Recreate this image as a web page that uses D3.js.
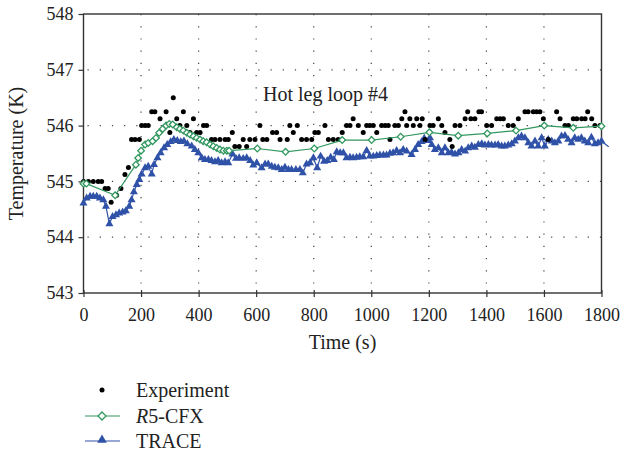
<!DOCTYPE html>
<html>
<head>
<meta charset="utf-8">
<script src="https://cdn.jsdelivr.net/npm/d3@7"></script>
<style>
  body { margin: 0; background: #fff; }
  text { font-family: 'Liberation Serif', 'DejaVu Serif', serif; fill: #222; }
</style>
</head>
<body>
<script>
let w = 625;
let h = 454;

// tick labels
let xTicks = [0, 200, 400, 600, 800, 1000, 1200, 1400, 1600, 1800];
let yTicks = [543, 544, 545, 546, 547, 548];

// Experiment (dots)
let expTime = [0, 17, 34, 51, 63, 75, 86, 96, 115, 130, 144, 156, 167, 179, 194, 202, 214, 225, 237, 248,
  266, 287, 300, 312, 324, 335, 347, 359, 370, 382, 393, 405, 417, 428, 445, 457, 474, 492, 503, 517,
  526, 541, 555, 567, 578, 596, 613, 623, 637, 657, 671, 683, 708, 717, 729, 743, 758, 775, 793, 804,
  816, 839, 851, 868, 885, 899, 914, 926, 937, 955, 972, 984, 995, 1007, 1019, 1036, 1048, 1059, 1065, 1082,
  1094, 1106, 1117, 1123, 1134, 1146, 1158, 1169, 1177, 1187, 1204, 1215, 1233, 1245, 1256, 1273, 1281, 1291, 1308, 1326,
  1335, 1346, 1360, 1374, 1383, 1401, 1418, 1436, 1448, 1459, 1476, 1493, 1511, 1534, 1545, 1563, 1574, 1586, 1598, 1615,
  1644, 1656, 1673, 1685, 1702, 1714, 1731, 1743, 1752, 1766, 1777, 1795];
let expTemp = [545, 545, 545, 545, 545, 544.875, 544.875, 544.625, 544.75, 544.875, 545.125, 545.25, 545.75, 545.75, 545.75, 546, 546, 546, 546.25, 546.25,
  546.125, 546.25, 545.875, 546.5, 546.125, 546, 546.25, 546, 545.875, 546.125, 545.875, 545.875, 546, 546, 545.75, 545.75, 545.75, 545.75, 545.75, 545.875,
  545.625, 545.625, 545.75, 545.625, 545.75, 545.75, 546, 545.75, 545.75, 545.875, 545.875, 545.75, 545.75, 546, 545.875, 546, 545.75, 545.75, 545.75, 545.875,
  545.875, 546, 545.75, 545.75, 545.75, 545.875, 546, 546, 546.125, 546, 545.875, 546, 546, 546, 545.875, 546, 546, 546, 545.75, 546,
  546, 546.125, 546.25, 546, 546.125, 546, 546.125, 546, 546.125, 545.75, 546, 546, 546.125, 546, 545.875, 545.75, 545.625, 546, 546, 546.125,
  546.25, 546.125, 546.125, 546.25, 546.25, 546, 546, 546.125, 546.125, 546.125, 546, 546, 546.125, 546.25, 546.25, 546.25, 546.25, 546.25, 546.125, 545.75,
  546.25, 546.125, 546, 546, 546.125, 546.125, 546.125, 546.125, 546.25, 546.125, 546, 546];

// R5-CFX (hollow diamonds)
let cfxTime = [0, 10, 110, 182, 190, 200, 214, 225, 240, 252, 263, 275, 287, 298, 310, 324, 335, 347, 359, 370,
  382, 393, 405, 416, 428, 440, 451, 463, 474, 486, 498, 506, 604, 702, 802, 899, 1001, 1102, 1202, 1302,
  1403, 1503, 1601, 1702, 1800];
let cfxTemp = [544.96, 544.96, 544.75, 545.3, 545.42, 545.55, 545.66, 545.69, 545.72, 545.78, 545.87, 545.94, 546.0, 546.03, 546.02, 545.97, 545.94, 545.91, 545.87, 545.84,
  545.81, 545.78, 545.75, 545.72, 545.7, 545.66, 545.63, 545.6, 545.57, 545.55, 545.55, 545.55, 545.59, 545.53, 545.59, 545.74, 545.74, 545.8, 545.88, 545.82,
  545.86, 545.91, 546.0, 545.96, 545.99];

// TRACE (filled triangles)
let traceTime = [0, 11, 23, 34, 46, 57, 69, 78, 90, 101, 113, 124, 136, 147, 159, 167, 175, 185, 194, 202,
  214, 225, 237, 245, 257, 268, 280, 291, 303, 314, 326, 338, 349, 361, 376, 387, 399, 411, 422, 434,
  445, 457, 468, 480, 492, 503, 518, 530, 541, 555, 567, 579, 590, 602, 619, 631, 642, 654, 665, 677,
  689, 700, 712, 723, 738, 752, 762, 775, 787, 799, 812, 824, 836, 847, 859, 870, 880, 892, 903, 914,
  926, 937, 949, 960, 972, 984, 995, 1007, 1019, 1030, 1042, 1053, 1065, 1076, 1088, 1100, 1111, 1123, 1140, 1152,
  1163, 1175, 1184, 1198, 1204, 1210, 1221, 1233, 1245, 1256, 1268, 1279, 1291, 1303, 1314, 1326, 1337, 1349, 1360, 1372,
  1384, 1395, 1407, 1418, 1430, 1441, 1453, 1464, 1476, 1488, 1499, 1511, 1522, 1534, 1546, 1557, 1569, 1580, 1592, 1603,
  1615, 1627, 1638, 1650, 1661, 1673, 1684, 1696, 1707, 1719, 1730, 1742, 1754, 1765, 1777, 1788, 1800, 1825];
let traceTemp = [544.61, 544.7, 544.73, 544.73, 544.73, 544.7, 544.67, 544.55, 544.24, 544.37, 544.4, 544.43, 544.45, 544.47, 544.55, 544.67, 544.81, 544.94, 545.03, 545.13,
  545.24, 545.27, 545.13, 545.3, 545.42, 545.51, 545.6, 545.66, 545.71, 545.75, 545.73, 545.71, 545.72, 545.67, 545.63, 545.57, 545.51, 545.42, 545.39, 545.39,
  545.37, 545.35, 545.37, 545.33, 545.35, 545.33, 545.49, 545.41, 545.42, 545.41, 545.42, 545.37, 545.29, 545.33, 545.24, 545.31, 545.31, 545.27, 545.25, 545.24,
  545.21, 545.25, 545.21, 545.21, 545.21, 545.21, 545.15, 545.31, 545.33, 545.42, 545.24, 545.45, 545.36, 545.37, 545.43, 545.39, 545.53, 545.51, 545.51, 545.42,
  545.43, 545.42, 545.43, 545.44, 545.44, 545.55, 545.45, 545.45, 545.46, 545.47, 545.47, 545.47, 545.5, 545.51, 545.55, 545.51, 545.57, 545.54, 545.48, 545.57,
  545.66, 545.71, 545.77, 545.73, 545.78, 545.66, 545.57, 545.6, 545.51, 545.6, 545.51, 545.52, 545.49, 545.51, 545.57, 545.54, 545.6, 545.63, 545.61, 545.66,
  545.67, 545.65, 545.66, 545.65, 545.65, 545.66, 545.63, 545.63, 545.65, 545.67, 545.72, 545.78, 545.81, 545.78, 545.69, 545.63, 545.72, 545.63, 545.78, 545.63,
  545.75, 545.72, 545.69, 545.72, 545.81, 545.82, 545.75, 545.69, 545.78, 545.75, 545.78, 545.72, 545.69, 545.79, 545.67, 545.69, 545.72, 545.62];

let green = '#32985f';
let blue = '#2f52a8';

let xScale = d3.scaleLinear().domain([0, 1800]).range([83.5, 601.5]);
let yScale = d3.scaleLinear().domain([543, 548]).range([293, 14]);

let svg = d3.select('body')
  .append('svg')
  .attr('width', w)
  .attr('height', h);

// dotted grid
svg.append('g')
  .selectAll('line')
  .data(xTicks.slice(1, -1))
  .enter()
  .append('line')
  .attr('x1', (d) => xScale(d)).attr('x2', (d) => xScale(d))
  .attr('y1', yScale(548)).attr('y2', yScale(543))
  .attr('stroke', '#444').attr('stroke-width', 1.2)
  .attr('stroke-dasharray', '1.2,11');

svg.append('g')
  .selectAll('line')
  .data(yTicks.slice(1, -1))
  .enter()
  .append('line')
  .attr('y1', (d) => yScale(d)).attr('y2', (d) => yScale(d))
  .attr('x1', xScale(0) + 4).attr('x2', xScale(1800))
  .attr('stroke', '#444').attr('stroke-width', 1.2)
  .attr('stroke-dasharray', '1.2,11');

// axes
let xAxis = d3.axisBottom(xScale).tickValues(xTicks).tickFormat(d3.format('d')).tickSize(4).tickPadding(11);
let yAxis = d3.axisLeft(yScale).tickValues(yTicks).tickFormat(d3.format('d')).tickSize(5).tickPadding(5);

let gx = svg.append('g')
  .attr('transform', 'translate(0,' + yScale(543) + ')')
  .call(xAxis);
gx.selectAll('.tick line').attr('y1', -3);

let gy = svg.append('g')
  .attr('transform', 'translate(' + xScale(0) + ',0)')
  .call(yAxis);

[gx, gy].forEach((g) => {
  g.select('.domain').remove();
  g.selectAll('.tick line').attr('stroke', '#333').attr('stroke-width', 1.2);
  g.selectAll('.tick text')
    .attr('font-family', 'Liberation Serif, serif')
    .attr('font-size', '18px')
    .attr('fill', '#222');
});

// frame
svg.append('rect')
  .attr('x', xScale(0)).attr('y', yScale(548))
  .attr('width', xScale(1800) - xScale(0))
  .attr('height', yScale(543) - yScale(548))
  .attr('fill', 'none').attr('stroke', '#333').attr('stroke-width', 1.4);

// series
let line = d3.line().x((d) => xScale(d[0])).y((d) => yScale(d[1]));

let cfx = cfxTime.map((t, i) => [t, cfxTemp[i]]);
let trace = traceTime.map((t, i) => [t, traceTemp[i]]);
let exp = expTime.map((t, i) => [t, expTemp[i]]);

svg.append('path')
  .datum(trace)
  .attr('d', line)
  .attr('fill', 'none').attr('stroke', blue).attr('stroke-width', 1.2);

svg.selectAll('.tri')
  .data(trace.filter((d) => d[0] <= 1800))
  .enter()
  .append('path')
  .attr('class', 'tri')
  .attr('d', d3.symbol().type(d3.symbolTriangle).size(28))
  .attr('transform', (d) => 'translate(' + xScale(d[0]) + ',' + yScale(d[1]) + ')')
  .attr('fill', blue);

svg.selectAll('.dot')
  .data(exp)
  .enter()
  .append('circle')
  .attr('class', 'dot')
  .attr('cx', (d) => xScale(d[0]))
  .attr('cy', (d) => yScale(d[1]))
  .attr('r', 2.5)
  .attr('fill', '#000');

svg.append('path')
  .datum(cfx)
  .attr('d', line)
  .attr('fill', 'none').attr('stroke', green).attr('stroke-width', 1.2);

svg.selectAll('.dia')
  .data(cfx)
  .enter()
  .append('path')
  .attr('class', 'dia')
  .attr('d', d3.symbol().type(d3.symbolSquare).size(22))
  .attr('transform', (d) => 'translate(' + xScale(d[0]) + ',' + yScale(d[1]) + ') rotate(45)')
  .attr('fill', '#fff').attr('stroke', green).attr('stroke-width', 1.3);

// labels
svg.append('text')
  .text('Hot leg loop #4')
  .attr('x', 263).attr('y', 101)
  .attr('font-size', '20px');

svg.append('text')
  .text('Time (s)')
  .attr('x', (xScale(0) + xScale(1800)) / 2).attr('y', 349)
  .attr('text-anchor', 'middle')
  .attr('font-size', '20px');

svg.append('text')
  .text('Temperature (K)')
  .attr('transform', 'translate(23,' + yScale(545.5) + ') rotate(-90)')
  .attr('text-anchor', 'middle')
  .attr('font-size', '20px');

// legend
let legend = svg.append('g');
legend.append('circle').attr('cx', 102).attr('cy', 390).attr('r', 2.5).attr('fill', '#000');
legend.append('text').text('Experiment').attr('x', 136).attr('y', 397).attr('font-size', '20px');

legend.append('line').attr('x1', 85).attr('x2', 120).attr('y1', 416).attr('y2', 416)
  .attr('stroke', green).attr('stroke-width', 1.2);
legend.append('path')
  .attr('d', d3.symbol().type(d3.symbolSquare).size(32))
  .attr('transform', 'translate(102,416) rotate(45)')
  .attr('fill', '#fff').attr('stroke', green).attr('stroke-width', 1.3);
let cfxLabel = legend.append('text').attr('x', 136).attr('y', 423).attr('font-size', '20px');
cfxLabel.append('tspan').text('R').attr('font-style', 'italic');
cfxLabel.append('tspan').text('5-CFX');

legend.append('line').attr('x1', 85).attr('x2', 120).attr('y1', 441).attr('y2', 441)
  .attr('stroke', blue).attr('stroke-width', 1.2);
legend.append('path')
  .attr('d', d3.symbol().type(d3.symbolTriangle).size(40))
  .attr('transform', 'translate(102,440)')
  .attr('fill', blue);
legend.append('text').text('TRACE').attr('x', 136).attr('y', 448).attr('font-size', '20px');
</script>
</body>
</html>
